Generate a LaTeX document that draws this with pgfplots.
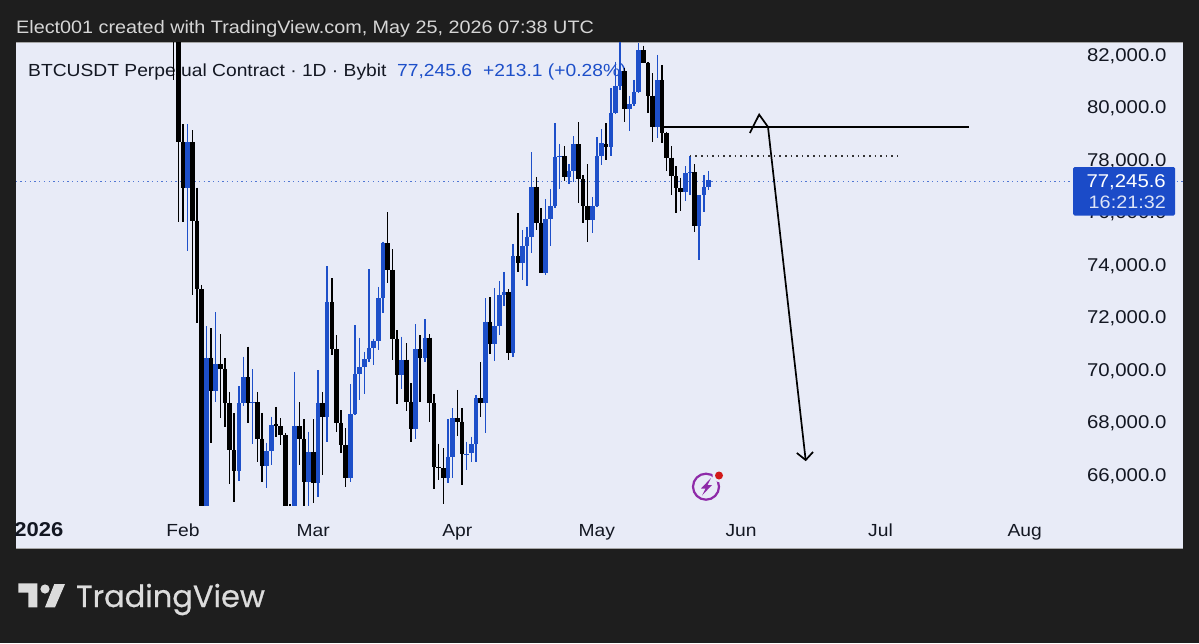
\documentclass[border=0pt]{standalone}
\usepackage{pgfplots}
\usepackage{pgfplotstable}
\usepackage{fontspec}
\setmainfont{Liberation Sans}
\newfontfamily\widefont[FakeStretch=1.1]{Liberation Sans}
\newfontfamily\logofont[FakeBold=0.6]{Poppins}
\pgfplotsset{compat=1.18}
\definecolor{pagebg}{HTML}{1E1E1E}
\definecolor{panelbg}{HTML}{E8EBF7}
\definecolor{tvblue}{HTML}{1D4FC9}
\definecolor{tagblue}{HTML}{1B4BC8}
\definecolor{ink}{HTML}{131722}
\definecolor{hdr}{HTML}{D6D6D6}
\definecolor{logo}{HTML}{DCDCDC}
\definecolor{icon}{HTML}{8E2AA8}
\pgfplotstableread{
d l b t h
-2 81050 83500 85000 85500
-1 75650 78670 83500 84000
0 75650 76920 78670 79370
2 72860 75680 78670 79140
3 71780 73070 75680 76950
4 63500 64000 73070 73240
6 67230 69200 70470 71590
8 68160 70040 70210 71360
9 67840 68730 70040 70440
10 65640 66950 68730 69170
11 64980 66160 66950 68350
14 67990 68750 69720 70890
16 66510 67390 68770 69170
17 65740 66340 67390 68370
20 67460 67880 67930 68600
21 67140 67520 67860 68160
22 64000 64300 67520 67590
23 63800 64000 64500 64880
25 66380 67360 67860 68770
26 64500 65740 67360 68120
28 64920 65680 66860 68120
30 66000 68220 68730 69170
32 70570 70790 72580 73490
33 67650 67990 70790 71330
34 66820 67140 67990 68470
35 65530 65870 67140 67780
44 73300 73810 74820 76000
45 70400 71170 73810 74600
46 68700 69810 71170 71520
48 68450 68790 70400 71010
49 67240 67750 68790 69490
51 68790 70470 70800 71330
53 68030 68730 71230 71360
54 65450 66290 68730 69080
55 65810 66250 66320 67200
56 64880 65900 66250 67010
59 67480 68030 68180 69240
60 65620 66800 68030 68560
64 68220 68730 68920 70290
66 70610 70990 71840 72790
70 70400 70660 72960 73070
72 73740 74060 74340 75970
76 75330 75610 76980 77360
77 73680 73710 75610 76180
82 77210 77360 78160 78530
85 76350 77280 78600 79430
86 75610 76250 77280 77430
87 74880 75710 76250 77830
91 78000 78510 78610 79400
95 79460 79940 81390 81490
99 81680 81710 82190 82360
100 79780 80450 81710 81750
101 78700 79240 80450 81300
103 78630 79040 81050 81620
104 77580 78090 79040 79080
105 76670 77390 78090 78530
106 75970 76920 77390 77770
107 76070 76770 76920 77330
110 75270 75480 77550 77830
}\blackcandles
\pgfplotstableread{
d l b t h
1 74550 76920 78670 79370
5 63500 64000 70470 71670
7 68790 69200 70210 72200
12 65780 66160 68730 69390
13 68640 68730 69720 70510
15 67180 68750 68770 70020
18 65490 66340 66910 67230
19 66380 66910 67900 68220
24 64000 64300 67880 69930
27 64500 65740 66860 67650
29 65170 65680 68730 70000
31 67270 68220 72580 73960
36 65740 65870 68320 69450
37 68280 68320 69830 71710
38 68860 69830 70100 71230
39 69080 70100 70420 70700
40 70320 70420 70820 73830
41 70190 70820 71120 71200
42 70760 71120 72730 73170
43 72180 72730 74820 74890
47 69260 69810 70400 71270
50 67360 67750 70800 71740
52 70320 70470 71230 71930
57 65680 65900 66700 68130
58 65870 66700 68160 68540
61 66190 66780 66800 67270
62 66510 66820 67180 67460
63 66510 67180 68920 69050
65 67610 68730 71840 72730
67 70350 70990 71690 73110
68 71330 71690 72860 73400
69 72440 72860 72960 73740
71 70480 70660 74340 74800
73 73430 74060 74740 75330
74 73210 74740 75080 75460
75 74440 75080 76980 78290
78 73620 73710 75740 76500
79 74740 75740 76250 76880
80 76160 76250 78130 79400
81 76890 78130 78160 78610
83 77070 77360 77580 77850
84 77170 77580 78600 78910
88 75230 75710 76250 76580
89 76200 76250 78150 78860
90 77810 78150 78630 79170
92 78150 78510 79780 80730
93 79750 79780 80830 81750
94 80670 80830 81390 83000
96 79100 79940 80120 80450
97 80070 80120 80600 81050
98 80540 80600 82190 82440
102 78820 79240 81050 82000
108 76450 76770 77490 77770
109 76670 77490 77550 78160
111 74190 75480 76670 76670
112 76030 76670 76980 77430
113 76860 76980 77245.6 77590
}\bluecandles
\newcommand{\wicks}[2]{\addplot[draw=none,mark=none,forget plot,
  error bars/.cd,y dir=minus,y explicit,error mark=none,
  error bar style={#2,line width=1.4pt}]
  table[x=d,y=h,y error expr=\thisrow{h}-\thisrow{l}] {#1};}
\newcommand{\bodies}[2]{\addplot[draw=none,mark=none,forget plot,
  error bars/.cd,y dir=minus,y explicit,error mark=none,
  error bar style={#2,line width=4.6pt}]
  table[x=d,y=t,y error expr=\thisrow{t}-\thisrow{b}] {#1};}
\begin{document}
\begin{tikzpicture}[x=1pt,y=-1pt]
\useasboundingbox (0,0) rectangle (1199,643);
\fill[pagebg] (0,0) rectangle (1199,643);
\fill[panelbg] (16,42) rectangle (1183,548);
\draw[gray!70,line width=0.8pt] (16,42) -- (1183,42);
\draw[gray!70,line width=0.8pt] (16,548.5) -- (1183,548.5);
\node[anchor=base west,inner sep=0pt,text=hdr,font=\widefont\fontsize{18}{20}\selectfont] at (16,33) {Elect001 created with TradingView.com, May 25, 2026 07:38 UTC};
\node[anchor=base west,inner sep=0pt,text=ink,font=\widefont\fontsize{17.5}{20}\selectfont] at (28,76) {BTCUSDT Perpetual Contract · 1D · Bybit};
\node[anchor=base west,inner sep=0pt,text=tvblue,font=\widefont\fontsize{17.5}{20}\selectfont] at (397,76) {77,245.6};
\node[anchor=base west,inner sep=0pt,text=tvblue,font=\widefont\fontsize{17.5}{20}\selectfont] at (483,76) {+213.1 (+0.28\%)};
\begin{axis}[
  at={(16pt,-505pt)},anchor=south west,
  width=1167pt,height=463pt,scale only axis,
  xmin=-35.914,xmax=215.05,ymin=64857,ymax=82495,
  axis line style={draw=none},
  tick style={draw=none},
  scaled y ticks=false,
  ytick={66000,68000,70000,72000,74000,76000,78000,80000,82000},
  yticklabels={{66,000.0},{68,000.0},{70,000.0},{72,000.0},{74,000.0},{76,000.0},{78,000.0},{80,000.0},{82,000.0}},
  yticklabel pos=right,
  yticklabel style={anchor=east,xshift=-16.5pt,yshift=-1pt,text=ink,font=\widefont\fontsize{18.5}{20}\selectfont,inner sep=0pt},
  xtick={-31,0,28,59,89,120,150,181},
  xticklabels={{\fontsize{20}{20}\selectfont\bfseries 2026},Feb,Mar,Apr,May,Jun,Jul,Aug},
  xticklabel style={anchor=base,yshift=-31pt,text=ink,font=\widefont\fontsize{17.5}{20}\selectfont,inner sep=0pt},
]
\addplot[forget plot,tvblue!75!panelbg,line width=0.9pt,dash pattern=on 1.3pt off 3.4pt,yshift=-1.2pt] coordinates {(-36,77245.6) (215,77245.6)};
\wicks{\blackcandles}{black}
\wicks{\bluecandles}{tvblue}
\bodies{\blackcandles}{black}
\bodies{\bluecandles}{tvblue}
\addplot[forget plot,black,line width=1.8pt] coordinates {(103.4,79257) (169,79257)};
\addplot[forget plot,black!80,line width=1.4pt,dash pattern=on 1.5pt off 4.1pt] coordinates {(109,78152) (153.8,78152)};
\addplot[forget plot,black,line width=1.7pt] coordinates {(121.9,79030) (123.9,79730) (125.8,79260) (133.9,66570)};
\addplot[forget plot,black,line width=1.7pt] coordinates {(132.0,66840) (133.9,66570) (135.5,66880)};
\end{axis}
% price tag
\fill[tagblue,rounded corners=1.5pt] (1073,167) rectangle (1175,215.5);
\node[anchor=base east,inner sep=0pt,text=white,font=\widefont\fontsize{18.5}{20}\selectfont] at (1166,187) {77,245.6};
\node[anchor=base east,inner sep=0pt,text=white!85!tagblue,font=\widefont\fontsize{18}{20}\selectfont] at (1166,208.5) {16:21:32};
% icon
\draw[icon,line width=2.2pt] (706,486.7) circle (13);
\fill[icon] (711,478) -- (701,488.5) -- (705.5,488.5) -- (702,495.5) -- (712,485) -- (707.5,485) -- cycle;
\fill[panelbg] (719,475.5) circle (6.5);
\fill[red!80!black!90!white] (719,475.5) circle (4);
% logo
\fill[logo] (18.3,583.3) -- (37.3,583.3) -- (37.3,607.3) -- (28.3,607.3) -- (28.3,592.7) -- (18.3,592.7) -- cycle;
\fill[logo] (45,589) circle (4.6);
\fill[logo] (54.3,584) -- (65,584) -- (55,607.3) -- (45,607.3) -- cycle;
\node[anchor=base west,inner sep=0pt,text=logo,font=\logofont\fontsize{30.5}{36}\selectfont] at (76,607) {TradingView};
\end{tikzpicture}
\end{document}
